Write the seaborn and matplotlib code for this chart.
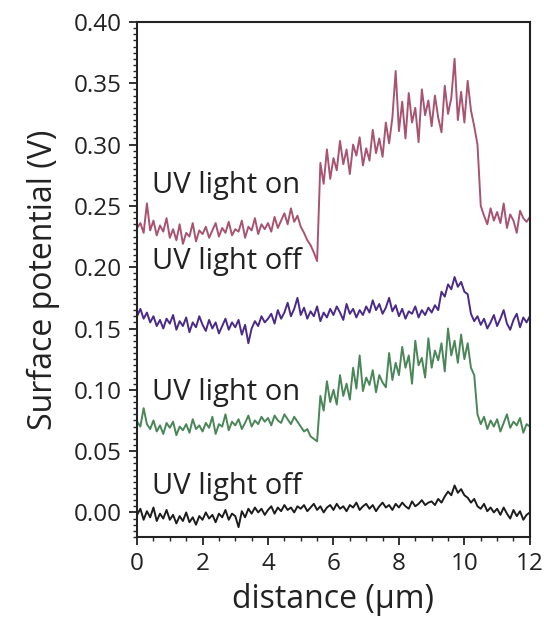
import matplotlib
matplotlib.use("Agg")
import matplotlib.pyplot as plt
from matplotlib.ticker import MultipleLocator
import seaborn as sns
import pandas as pd
import numpy as np

# distance in um, sampled every 0.1 um
distance = [round(i * 0.1, 1) for i in range(121)]

on_top = [0.232, 0.236, 0.228, 0.252, 0.230, 0.238, 0.226, 0.234, 0.229, 0.240,
          0.224, 0.231, 0.222, 0.235, 0.219, 0.228, 0.225, 0.236, 0.221, 0.230,
          0.227, 0.233, 0.224, 0.230, 0.236, 0.225, 0.232, 0.228, 0.237, 0.226,
          0.231, 0.229, 0.238, 0.224, 0.233, 0.230, 0.240, 0.227, 0.235, 0.231,
          0.236, 0.229, 0.241, 0.232, 0.238, 0.244, 0.235, 0.248, 0.237, 0.242,
          0.233, 0.228, 0.222, 0.218, 0.212, 0.205, 0.285, 0.268, 0.296, 0.272,
          0.289, 0.279, 0.303, 0.284, 0.296, 0.276, 0.300, 0.291, 0.306, 0.283,
          0.297, 0.287, 0.312, 0.293, 0.305, 0.290, 0.318, 0.301, 0.322, 0.360,
          0.311, 0.335, 0.305, 0.342, 0.318, 0.330, 0.302, 0.345, 0.324, 0.336,
          0.315, 0.340, 0.322, 0.310, 0.348, 0.325, 0.338, 0.370, 0.320, 0.343,
          0.318, 0.352, 0.328, 0.315, 0.300, 0.250, 0.242, 0.235, 0.248, 0.238,
          0.245, 0.236, 0.252, 0.232, 0.243, 0.238, 0.228, 0.246, 0.240, 0.237, 0.241]

off_top = [0.160, 0.166, 0.158, 0.163, 0.155, 0.160, 0.152, 0.157, 0.150, 0.158,
           0.154, 0.161, 0.149, 0.156, 0.152, 0.159, 0.147, 0.155, 0.151, 0.160,
           0.153, 0.148, 0.157, 0.150, 0.155, 0.146, 0.152, 0.158, 0.149, 0.155,
           0.151, 0.157, 0.145, 0.153, 0.138, 0.150, 0.156, 0.152, 0.160, 0.155,
           0.158, 0.162, 0.154, 0.165, 0.158, 0.163, 0.171, 0.160, 0.166, 0.175,
           0.161, 0.167, 0.158, 0.164, 0.160, 0.168, 0.156, 0.163, 0.159, 0.166,
           0.161, 0.168, 0.163, 0.157, 0.170, 0.162, 0.166, 0.159, 0.165, 0.161,
           0.168, 0.163, 0.173, 0.165, 0.170, 0.162, 0.167, 0.175, 0.164, 0.169,
           0.160, 0.166, 0.158, 0.164, 0.162, 0.168, 0.159, 0.165, 0.161, 0.167,
           0.163, 0.169, 0.165, 0.180, 0.176, 0.186, 0.182, 0.192, 0.184, 0.188,
           0.180, 0.178, 0.162, 0.156, 0.160, 0.153, 0.158, 0.150, 0.155, 0.161,
           0.152, 0.158, 0.165, 0.154, 0.149, 0.157, 0.162, 0.151, 0.159, 0.155, 0.160]

on_bottom = [0.074, 0.070, 0.085, 0.072, 0.068, 0.075, 0.066, 0.071, 0.064, 0.073,
             0.069, 0.074, 0.063, 0.070, 0.067, 0.072, 0.065, 0.076, 0.068, 0.071,
             0.066, 0.073, 0.069, 0.078, 0.064, 0.072, 0.070, 0.080, 0.067, 0.074,
             0.071, 0.076, 0.068, 0.073, 0.079, 0.070, 0.075, 0.072, 0.078, 0.074,
             0.077, 0.071, 0.079, 0.075, 0.073, 0.080, 0.076, 0.072, 0.078, 0.074,
             0.070, 0.066, 0.068, 0.062, 0.060, 0.058, 0.095, 0.083, 0.107, 0.090,
             0.100, 0.088, 0.112, 0.095, 0.105, 0.092, 0.118, 0.101, 0.128, 0.099,
             0.110, 0.104, 0.116, 0.098, 0.112, 0.106, 0.102, 0.130, 0.108, 0.122,
             0.112, 0.135, 0.118, 0.128, 0.105, 0.140, 0.120, 0.126, 0.110, 0.142,
             0.118, 0.132, 0.124, 0.138, 0.115, 0.150, 0.128, 0.140, 0.122, 0.145,
             0.125, 0.138, 0.118, 0.112, 0.080, 0.072, 0.078, 0.068, 0.075, 0.070,
             0.076, 0.066, 0.073, 0.080, 0.069, 0.074, 0.071, 0.077, 0.065, 0.072, 0.070]

off_bottom = [-0.002, 0.003, -0.006, 0.001, -0.004, 0.004, -0.007, -0.001, -0.005, 0.002,
              -0.006, -0.002, -0.009, -0.003, -0.007, 0.000, -0.008, -0.004, -0.010, -0.003,
              -0.006, 0.000, -0.005, -0.002, -0.008, -0.001, -0.004, 0.002, -0.006, -0.001,
              -0.003, -0.012, 0.001, -0.004, 0.003, -0.001, 0.004, 0.000, 0.003, -0.002,
              0.002, 0.005, -0.001, 0.004, 0.001, 0.006, 0.002, 0.004, 0.000, 0.005,
              0.003, 0.006, 0.001, 0.004, 0.007, 0.002, 0.005, 0.000, 0.004, 0.006,
              0.002, 0.007, 0.003, 0.005, 0.001, 0.006, 0.004, 0.008, 0.002, 0.005,
              0.007, 0.003, 0.006, 0.001, 0.005, 0.008, 0.004, 0.006, 0.002, 0.007,
              0.004, 0.008, 0.005, 0.003, 0.009, 0.005, 0.007, 0.010, 0.006, 0.008,
              0.009, 0.006, 0.011, 0.008, 0.013, 0.017, 0.014, 0.022, 0.016, 0.019,
              0.014, 0.012, 0.008, 0.011, 0.005, 0.003, 0.007, 0.001, 0.004, 0.000,
              0.003, -0.002, 0.004, -0.001, -0.005, 0.002, -0.003, 0.001, -0.006, -0.002, 0.000]

labels = ["UV light on", "UV light off", "UV light on", "UV light off"]
label_y = [0.267, 0.2045, 0.098, 0.021]
colors = ["#a85470", "#4a2a88", "#4a8658", "#1c1c1c"]
series = [on_top, off_top, on_bottom, off_bottom]

sns.set_style("ticks")
plt.rcParams["font.family"] = ["Open Sans", "DejaVu Sans"]

fig = plt.figure(figsize=(5.44, 6.28), dpi=100)
ax = fig.add_axes([0.252, 0.145, 0.722, 0.820])

for vals, c in zip(series, colors):
    df = pd.DataFrame({"distance": distance, "potential": vals})
    sns.lineplot(data=df, x="distance", y="potential", color=c, linewidth=1.4, ax=ax)

for lab, yy in zip(labels, label_y):
    ax.text(0.45, yy, lab, fontsize=21, color="#222222", va="center", ha="left")

ax.set_xlim(0, 12)
ax.set_ylim(-0.02, 0.40)
ax.xaxis.set_major_locator(MultipleLocator(2))
ax.xaxis.set_minor_locator(MultipleLocator(0.5))
ax.yaxis.set_minor_locator(MultipleLocator(0.005))
ax.set_yticks(np.arange(0, 0.401, 0.05))
ax.set_yticklabels([f"{v:.2f}" for v in np.arange(0, 0.401, 0.05)])
ax.tick_params(which="major", direction="out", length=6, width=1.3, labelsize=17.5, colors="#222222", pad=5)
ax.tick_params(which="minor", direction="out", length=3, width=1)
for s in ax.spines.values():
    s.set_visible(True)
    s.set_linewidth(1.5)
    s.set_color("#222222")

ax.set_xlabel("distance (μm)", fontsize=23, color="#222222", labelpad=5)
ax.set_ylabel("Surface potential (V)", fontsize=23, color="#222222", labelpad=10)

fig.savefig("out.png", dpi=100)
